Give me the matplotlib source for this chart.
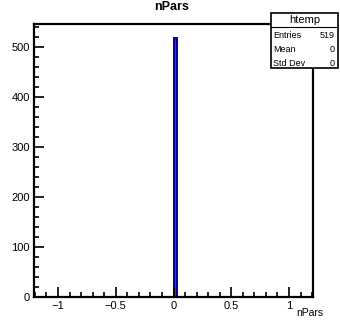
import numpy as np
import matplotlib.pyplot as plt
from matplotlib.ticker import MultipleLocator

# histogram of nPars (all entries in the first bin at 0)
bin_edges = [0.0, 0.03]
bin_counts = [519]
x_ticks = [-1, -0.5, 0, 0.5, 1]
x_tick_labels = ["\u22121", "\u22120.5", "0", "0.5", "1"]
y_ticks = [0, 100, 200, 300, 400, 500]
stats_names = ["Entries", "Mean", "Std Dev"]
stats_values = ["519", "0", "0"]

plt.rcParams['font.family'] = ['Liberation Sans', 'DejaVu Sans']

fig = plt.figure(figsize=(3.4, 3.21), dpi=100)
ax = fig.add_axes([34 / 340, 24 / 321, 279 / 340, 273 / 321])

ax.stairs(bin_counts, bin_edges, fill=True, facecolor="#3535c8", edgecolor="#000099", linewidth=1.2)
ax.stairs(bin_counts, bin_edges, color="#000099", linewidth=1.2)

ax.set_xlim(-1.208, 1.208)
ax.set_ylim(0, 546)
ax.set_xticks(x_ticks)
ax.set_xticklabels(x_tick_labels)
ax.set_yticks(y_ticks)
ax.xaxis.set_minor_locator(MultipleLocator(0.1))
ax.yaxis.set_minor_locator(MultipleLocator(20))
ax.tick_params(which="both", direction="in", top=False, right=False, labelsize=8, width=1.2, pad=3)
ax.tick_params(which="major", length=7)
ax.tick_params(which="minor", length=3.5)
for s in ax.spines.values():
    s.set_linewidth(1.6)

# axis title and histogram title
fig.text(310 / 340, 1 - 313 / 321, "nPars", ha="center", va="center", fontsize=7.5)
fig.text(172 / 340, 1 - 7 / 321, "nPars", ha="center", va="center", fontsize=9, fontweight="bold")

# stats box
bx0, by0, bw, bh = 271 / 340, 1 - 68 / 321, 67 / 340, 55 / 321
box = plt.Rectangle((bx0, by0), bw, bh, transform=fig.transFigure, facecolor="white",
                    edgecolor="black", linewidth=1.2, zorder=5)
fig.add_artist(box)
fig.add_artist(plt.Line2D([bx0, bx0 + bw], [1 - 27 / 321, 1 - 27 / 321], transform=fig.transFigure,
                          color="black", linewidth=0.8, zorder=6))
fig.text(bx0 + bw / 2, 1 - 20 / 321, "htemp", ha="center", va="center", fontsize=8, zorder=7)
for i, (n, v) in enumerate(zip(stats_names, stats_values)):
    yy = 1 - (35 + i * 14) / 321
    fig.text(bx0 + 2 / 340, yy, n, ha="left", va="center", fontsize=6.5, zorder=7)
    fig.text(bx0 + bw - 3 / 340, yy, v, ha="right", va="center", fontsize=6.5, zorder=7)

fig.savefig("out.png", dpi=100)
